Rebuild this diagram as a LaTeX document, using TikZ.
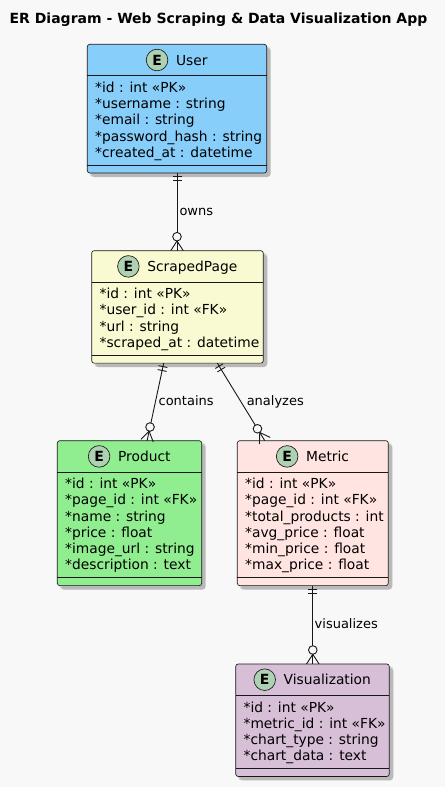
\documentclass[tikz,border=0pt]{standalone}
\usepackage{fontspec}
\setmainfont{DejaVu Sans}
\usetikzlibrary{calc}
\definecolor{bgc}{HTML}{F8F8F8}
\definecolor{edge}{HTML}{181818}
\definecolor{userc}{HTML}{87CEFA}
\definecolor{pagec}{HTML}{FAFAD2}
\definecolor{prodc}{HTML}{90EE90}
\definecolor{metc}{HTML}{FFE4E1}
\definecolor{visc}{HTML}{D8BFD8}
\definecolor{spotc}{HTML}{ADD1B2}
\tikzset{
  entbox/.style={draw=edge, line width=0.65pt, rounded corners=2.5pt, inner sep=0pt, outer sep=0pt},
  entline/.style={draw=edge, line width=0.65pt},
  ttl/.style={font=\fontsize{13.8}{16}\selectfont, inner sep=0pt, anchor=base},
  attr/.style={font=\fontsize{13.8}{16}\selectfont, inner sep=0pt, anchor=base west},
  spot/.style={circle, draw=edge, line width=0.65pt, fill=spotc, minimum size=21.6pt, inner sep=0pt, font=\fontsize{14}{16}\selectfont\bfseries},
  rel/.style={draw=edge, line width=0.9pt},
  rellabel/.style={font=\fontsize{13}{15}\selectfont, inner sep=0pt, text height=9.5pt, text depth=2.5pt, anchor=west},
  shadowbox/.style={fill=black, opacity=.09, rounded corners=3.5pt},
}
\newcommand\entity[8]{%
  \pgfmathsetmacro\entH{31.4+24.3+16.25*(#5-1)+8}%
  \fill[shadowbox] (#2+2,#3+2) rectangle ++(#4+2,\entH+2);
  \fill[shadowbox] (#2+3,#3+3) rectangle ++(#4+1,\entH+1);
  \fill[shadowbox] (#2+4,#3+4) rectangle ++(#4,\entH);
  \node[entbox, fill=#6, minimum width=#4pt, minimum height=\entH pt, anchor=north west] (#1) at (#2,#3) {};
  \draw[entline] ($(#1.north west)+(0,31.4)$) -- ($(#1.north east)+(0,31.4)$);
  \draw[entline] ($(#1.south west)+(0,-8)$) -- ($(#1.south east)+(0,-8)$);
  \node[ttl] (#1-t) at ($(#1.north)+(14.8,20.8)$) {#7};
  \node[spot] (#1-e) at ($(#1-t.base west)+(-18.8,-5.1)$) {E};
  \foreach \t [count=\i] in {#8} {
    \node[attr] (#1-a\i) at ($(#1.north west)+(7.7,{48+16.25*(\i-1)})$) {\t};
  }
}
\newcommand\relation[5]{% from, to, label, xshift, name
  \path (#1) -- (#2) node[rellabel, midway, xshift=#4pt] (#5) {#3};
  \draw[rel] (#1) -- ($(#2)!18.3pt!(#1)$);
  \draw[rel] ($(#2)!14pt!(#1)$) circle[radius=4.3pt];
  \draw[rel] ($(#2)!9.7pt!(#1)$) -- (#2);
  \draw[rel] ($(#2)!9.7pt!(#1)$) -- ($(#2)!6.3pt!90:(#1)$);
  \draw[rel] ($(#2)!9.7pt!(#1)$) -- ($(#2)!6.3pt!-90:(#1)$);
  \draw[rel] ($($(#1)!3.5pt!(#2)$)!4.5pt!90:(#2)$) -- ($($(#1)!3.5pt!(#2)$)!4.5pt!-90:(#2)$);
  \draw[rel] ($($(#1)!7.5pt!(#2)$)!4.5pt!90:(#2)$) -- ($($(#1)!7.5pt!(#2)$)!4.5pt!-90:(#2)$);
}
\begin{document}
\begin{tikzpicture}[x=1pt, y=-1pt]
  \fill[bgc] (0,0) rectangle (445,787);
  \useasboundingbox (0,0) rectangle (445,787);
  \node[font=\fontsize{14}{16}\selectfont\bfseries, anchor=base, inner sep=0pt] (title) at (218.5,23.3) {ER Diagram - Web Scraping \& Data Visualization App};

  \entity{user}{87.3}{44.3}{179.4}{5}{userc}{User}{*id : int «PK», *username : string, *email : string, *password\_hash : string, *created\_at : datetime}
  \entity{page}{91.7}{250.7}{171.6}{4}{pagec}{ScrapedPage}{*id : int «PK», *user\_id : int «FK», *url : string, *scraped\_at : datetime}
  \entity{product}{57.3}{440.7}{144.4}{6}{prodc}{Product}{*id : int «PK», *page\_id : int «FK», *name : string, *price : float, *image\_url : string, *description : text}
  \entity{metric}{237.3}{440.7}{151}{6}{metc}{Metric}{*id : int «PK», *page\_id : int «FK», *total\_products : int, *avg\_price : float, *min\_price : float, *max\_price : float}
  \entity{vis}{235.7}{664}{153.6}{4}{visc}{Visualization}{*id : int «PK», *metric\_id : int «FK», *chart\_type : string, *chart\_data : text}

  \coordinate (u1) at (user.south);
  \coordinate (u2) at (user.south |- page.north);
  \coordinate (c1) at ($(page.south west)+(72,0)$);
  \coordinate (c2) at ($(product.north west)+(89.8,0)$);
  \coordinate (a1) at ($(page.south west)+(125.6,0)$);
  \coordinate (a2) at ($(metric.north west)+(27.5,0)$);
  \coordinate (v1) at (metric.south);
  \coordinate (v2) at (metric.south |- vis.north);

  \relation{u1}{u2}{owns}{2.3}{lowns}
  \relation{c1}{c2}{contains}{3}{lcontains}
  \relation{a1}{a2}{analyzes}{5.5}{lanalyzes}
  \relation{v1}{v2}{visualizes}{1.7}{lvisualizes}
\end{tikzpicture}
\end{document}
